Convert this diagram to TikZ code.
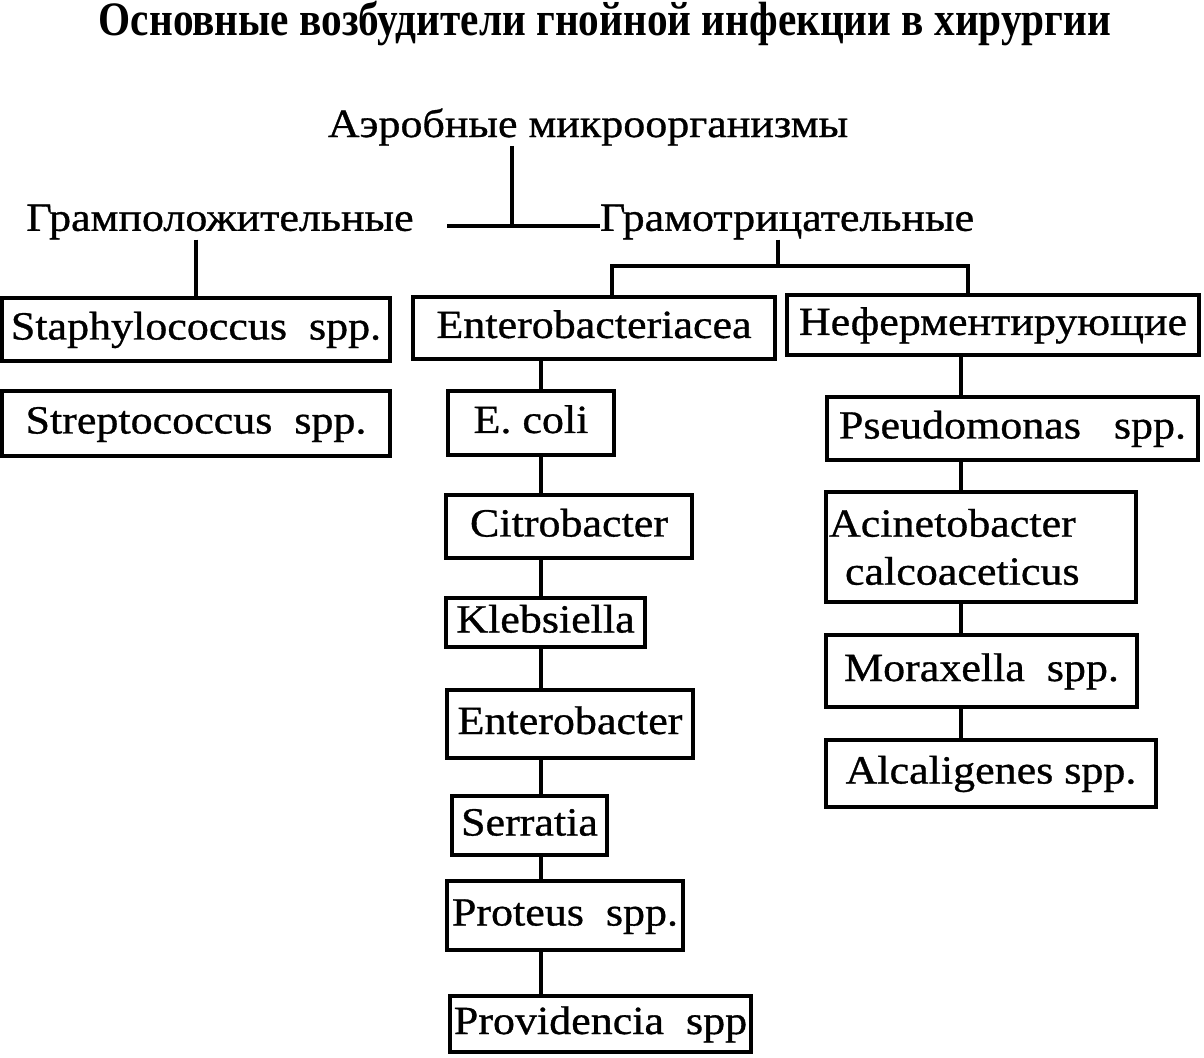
\documentclass[tikz,border=0pt]{standalone}
\usepackage{fontspec}
\setmainfont{Liberation Serif}[FakeStretch=1.1, FakeBold=0.8]
\newfontfamily\headfont{Liberation Serif}[FakeStretch=0.86]
\usetikzlibrary{positioning,calc}

\begin{document}
\begin{tikzpicture}[x=0.5pt, y=-0.5pt,
  box/.style={draw, line width=1.6pt, inner sep=0pt, text height=15pt, text depth=5pt, font=\fontsize{20}{24}\selectfont},
  lbl/.style={inner sep=0pt, font=\fontsize{20}{24}\selectfont},
  link/.style={line width=1.6pt}]
 \useasboundingbox (0,0) rectangle (1204,1058);

 \node[inner sep=0pt, font=\headfont\bfseries\fontsize{24}{28}\selectfont] (title) at (605,24) {Основные возбудители гнойной инфекции в хирургии};

 \node[lbl] (aero) at (588,127) {Аэробные микроорганизмы};
 \node[lbl] (gpos) at (220,222) {Грамположительные};
 \node[lbl] (gneg) at (787,222) {Грамотрицательные};

 \node[box, minimum width=194pt, minimum height=31.5pt] (staph) at (196,329.5) {Staphylococcus\ \ spp.};
 \node[box, minimum width=194pt, minimum height=32.5pt] (strep) at (196,423.5) {Streptococcus\ \ spp.};

 \node[box, minimum width=181pt, minimum height=31pt] (enteroa) at (594,328) {Enterobacteriacea};
 \node[box, minimum width=83pt, minimum height=32pt] (ecoli) at (531,423) {E. coli};
 \node[box, minimum width=123pt, minimum height=31.5pt] (citro) at (569,526.5) {Citrobacter};
 \node[box, minimum width=99.5pt, minimum height=24.5pt] (kleb) at (545.5,622.5) {Klebsiella};
 \node[box, minimum width=123pt, minimum height=34pt] (enterob) at (570,724) {Enterobacter};
 \node[box, minimum width=77.5pt, minimum height=29.5pt] (serr) at (529.5,825.5) {Serratia};
 \node[box, minimum width=118pt, minimum height=34.5pt] (prot) at (565,915.5) {Proteus\ \ spp.};
 \node[box, minimum width=150.5pt, minimum height=28pt] (provid) at (600.5,1024) {Providencia\ \ spp};

 \node[box, minimum width=206pt, minimum height=30pt] (neferm) at (993,325) {Неферментирующие};
 \node[box, minimum width=185.5pt, minimum height=31.5pt] (pseudo) at (1012.5,428.5) {Pseudomonas\ \ \ spp.};
 \node[box, minimum width=155pt, minimum height=55pt, text height={}, text depth={}, text width=152pt, align=left] (acin) at (981,547) {Acinetobacter\\\hspace*{8pt}calcoaceticus};
 \node[box, minimum width=155.5pt, minimum height=36pt] (morax) at (981.5,671) {Moraxella\ \ spp.};
 \node[box, minimum width=165pt, minimum height=33.5pt] (alcal) at (991,773.5) {Alcaligenes spp.};

 \coordinate (junc) at (512,226);
 \coordinate (jleft) at (447,226);
 \coordinate (tick) at (778,266);
 \coordinate (brl) at (612,266);
 \coordinate (brr) at (968,266);
 \coordinate (lcol) at (541,0);
 \coordinate (rcol) at (961,0);

 % upper levels
 \draw[link] (aero.south -| junc) -- (junc);
 \draw[link] (jleft) -- (gneg.west |- jleft);
 \draw[link] (gpos.south -| staph.north) -- (staph.north);
 \draw[link] (gneg.south -| tick) -- (tick);
 \draw[link] (enteroa.north -| brl) -- (brl) -- (brr) -- (neferm.north -| brr);

 % Enterobacteriacea
 \draw[link] (enteroa.south -| lcol) -- (ecoli.north -| lcol);
 \draw[link] (ecoli.south -| lcol) -- (citro.north -| lcol);
 \draw[link] (citro.south -| lcol) -- (kleb.north -| lcol);
 \draw[link] (kleb.south -| lcol) -- (enterob.north -| lcol);
 \draw[link] (enterob.south -| lcol) -- (serr.north -| lcol);
 \draw[link] (serr.south -| lcol) -- (prot.north -| lcol);
 \draw[link] (prot.south -| lcol) -- (provid.north -| lcol);

 % non-fermenting
 \draw[link] (neferm.south -| rcol) -- (pseudo.north -| rcol);
 \draw[link] (pseudo.south -| rcol) -- (acin.north -| rcol);
 \draw[link] (acin.south -| rcol) -- (morax.north -| rcol);
 \draw[link] (morax.south -| rcol) -- (alcal.north -| rcol);
\end{tikzpicture}
\end{document}
